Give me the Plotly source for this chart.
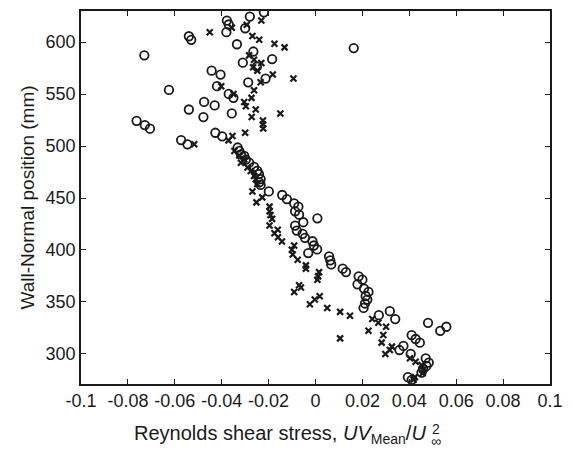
import plotly.graph_objects as go

circle_x = [-0.022, -0.028, -0.0378, -0.037, -0.030, -0.038, -0.054, -0.053, -0.0335, 0.0163,
            -0.0265, -0.073, -0.0185, -0.031, -0.025, -0.0443, -0.0405, -0.0213, -0.0287, -0.042,
            -0.0625, -0.037, -0.035, -0.0475, -0.043, -0.054, -0.0357, -0.0478, -0.0763, -0.0728,
            -0.0706, -0.0427, -0.0398, -0.0573, -0.0546,
            -0.0332, -0.0325, -0.0318, -0.0304, -0.0297, -0.0283, -0.0262, -0.0248, -0.0241, -0.0234,
            -0.024, -0.0234, -0.0199, -0.0142, -0.0122, -0.0091, -0.0073, -0.0087, -0.007, 0.0008,
            -0.0052, -0.0087, -0.008, -0.0055, -0.0045, -0.0013, -0.0007, 0.0007, -0.0031, 0.0058,
            0.0063, 0.0067, 0.0116, 0.013, 0.0184, 0.02, 0.0179, 0.0207, 0.0226, 0.0214,
            0.0221, 0.0211, 0.0205, 0.0317, 0.027, 0.034, 0.048, 0.0558, 0.0532, 0.041,
            0.0427, 0.0445, 0.0375, 0.0358, 0.0406, 0.047, 0.0483, 0.0473, 0.0459, 0.0452,
            0.0394, 0.041]
circle_y = [628.7, 624.6, 620.8, 617, 613.4, 609.6, 605.7, 602.3, 598, 594.3,
            591, 587.3, 583.7, 580.3, 576.4, 572.6, 568.8, 565, 561.4, 557.6,
            554, 550.2, 546.4, 542.5, 539.1, 535.2, 531.4, 527.9, 524.3, 520.2,
            516.7, 512.8, 509.4, 505.8, 501.7,
            498.6, 495.3, 492, 490.5, 487, 484, 480, 476.2, 473, 468.2,
            465, 462.6, 456.3, 452.9, 449, 444.8, 441.7, 437.2, 434, 430.5,
            426.7, 423.5, 418.7, 415.5, 411.7, 408.4, 404.3, 400.5, 397, 393.8,
            390, 386.1, 382, 378.7, 374.6, 371.4, 366.9, 362.8, 359.6, 355.7,
            352.3, 348.5, 344.2, 341.1, 337.2, 333.5, 329.9, 326.1, 322.2, 318.1,
            314.3, 310.8, 307.6, 303.7, 299.9, 295.7, 291.6, 288.4, 285.2, 282,
            277.6, 275]

cross_x = [-0.0231, -0.0293, -0.0357, -0.0451, -0.0269, -0.024, -0.0175, -0.0132, -0.0283, -0.0262,
           -0.0231, -0.0266, -0.0248, -0.0182, -0.0094, -0.0234, -0.0402, -0.0262, -0.035, -0.0273,
           -0.0304, -0.0297, -0.0255, -0.015, -0.0272, -0.0224, -0.0224, -0.0223, -0.03, -0.0354,
           -0.0371, -0.0517,
           -0.0346, -0.0325, -0.0318, -0.0304, -0.029, -0.0276, -0.0262, -0.0255, -0.0248, -0.0269,
           -0.0227, -0.0252, -0.0196, -0.0196, -0.0192, -0.0185, -0.0196, -0.0161, -0.0175, -0.016,
           -0.0143, -0.0091, -0.0101, -0.0097, -0.0076, -0.0041, -0.0041, 0.0015, 0.0011, 0.0008,
           -0.007, -0.0062, -0.0091, 0.0018, -0.0003, -0.0024, 0.005, 0.0105, 0.0147, 0.0105,
           0.0242, 0.0268, 0.0301, 0.0226, 0.0289, 0.0282, 0.0326, 0.0317, 0.0298, 0.0403,
           0.0427, 0.0452, 0.0459, 0.0457, 0.0424, 0.0418]
cross_y = [620.8, 616.7, 614, 609.6, 606, 602.3, 598.5, 595, 587.3, 583.1,
           579.9, 575.8, 572.6, 568.8, 565, 561.4, 557.6, 553.7, 550.2, 546.4,
           542.5, 538.4, 535.2, 531.4, 527.9, 524.7, 520.9, 517, 512.8, 509.7,
           505.5, 501.7,
           495.3, 491, 484, 487, 479.3, 476, 471.3, 468, 463.5, 456.3,
           450.6, 445.8, 441.7, 437.2, 433.7, 429.9, 423.5, 419.4, 416.1, 412.3,
           408.1, 404.3, 400.2, 395.7, 390.6, 385.2, 382, 378.7, 374.6, 371.4,
           366, 363.8, 359.6, 355.5, 352.3, 347.8, 344.2, 340.4, 336.6, 314.9,
           333.5, 329.9, 326.1, 322.2, 318.1, 310.8, 307, 303.7, 299.9, 295.7,
           292.5, 289.3, 284.5, 281.3, 277.6, 275]

x_ticks = [-0.1, -0.08, -0.06, -0.04, -0.02, 0, 0.02, 0.04, 0.06, 0.08, 0.1]
x_tick_labels = ["-0.1", "-0.08", "-0.06", "-0.04", "-0.02", "0", "0.02", "0.04", "0.06", "0.08", "0.1"]
y_ticks = [300, 350, 400, 450, 500, 550, 600]

ink = "#1a1a1a"
fig = go.Figure()
fig.add_trace(go.Scatter(x=circle_x, y=circle_y, mode="markers",
                         marker=dict(symbol="circle-open", size=8.5, color=ink, line=dict(width=1.8, color=ink)),
                         showlegend=False))
fig.add_trace(go.Scatter(x=cross_x, y=cross_y, mode="markers",
                         marker=dict(symbol="x-thin-open", size=6, color=ink, line=dict(width=2.2, color=ink)),
                         showlegend=False))

font_family = "Liberation Sans, Arial, sans-serif"
fig.update_layout(
    width=572, height=450,
    margin=dict(l=81, r=15, t=9, b=66),
    paper_bgcolor="white", plot_bgcolor="white",
    font=dict(family=font_family, size=18, color=ink),
    xaxis=dict(range=[-0.1, 0.1], tickvals=x_ticks, ticktext=x_tick_labels,
               ticks="inside", ticklen=5, tickwidth=1, tickcolor=ink,
               showline=True, linecolor=ink, linewidth=1.5, mirror="ticks",
               showgrid=False, zeroline=False, tickfont=dict(size=18)),
    yaxis=dict(range=[271, 630], tickvals=y_ticks,
               ticks="inside", ticklen=5, tickwidth=1, tickcolor=ink,
               showline=True, linecolor=ink, linewidth=1.5, mirror="ticks",
               showgrid=False, zeroline=False, tickfont=dict(size=18),
               title=dict(text="Wall-Normal position (mm)", font=dict(size=19), standoff=6)),
)

# x-axis title with stacked super/subscript
fig.add_annotation(xref="paper", yref="paper", x=0.109, y=-0.135, yanchor="middle", xanchor="left",
                   showarrow=False, font=dict(size=20, family=font_family, color=ink),
                   text="Reynolds shear stress, <i>UV</i><sub>Mean</sub>/<i>U</i>")
fig.add_annotation(xref="paper", yref="paper", x=0.745, y=-0.121, yanchor="middle", xanchor="left",
                   showarrow=False, font=dict(size=14, family=font_family, color=ink), text="2")
fig.add_annotation(xref="paper", yref="paper", x=0.741, y=-0.154, yanchor="middle", xanchor="left",
                   showarrow=False, font=dict(size=14, family=font_family, color=ink), text="∞")

fig.write_html("out.html")
